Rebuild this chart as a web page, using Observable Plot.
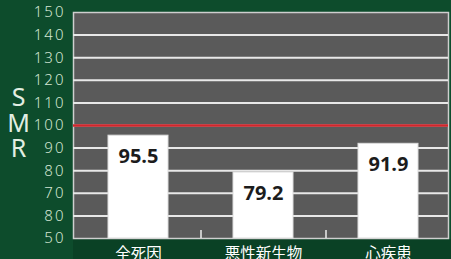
<!DOCTYPE html>
<html><head><meta charset="utf-8">
<script src="https://cdn.jsdelivr.net/npm/d3@7"></script>
<script src="https://cdn.jsdelivr.net/npm/@observablehq/plot@0.6"></script>
<style>
html,body{margin:0;padding:0;width:451px;height:259px;overflow:hidden;background:#0d4c2c;}
#chart{position:relative;}
#strip{position:absolute;left:73px;top:239px;width:378px;height:20px;background:#0a4125;}
svg{position:relative;display:block;}
g[aria-label="y-axis tick label"] text{letter-spacing:2px;font-weight:300;}
</style></head>
<body><div id="chart"><div id="strip"></div></div>
<script>
const categories = ["全死因", "悪性新生物", "心疾患"];
const smrValues = [95.5, 79.2, 91.9];
const valueLabels = ["95.5", "79.2", "91.9"];
const yTicks = [50, 60, 70, 80, 90, 100, 110, 120, 130, 140, 150];
const yTickLabels = ["50", "80", "70", "80", "90", "100", "110", "120", "130", "140", "150"];
const referenceLine = [100];
const axisTitle = "S\nM\nR";

const rows = categories.map((c, i) => ({category: c, smr: smrValues[i], label: valueLabels[i]}));
const labelMap = new Map(yTicks.map((t, i) => [t, yTickLabels[i]]));
const baseline = yTicks[0];
const step = (450 - 75) / categories.length;

const chart = Plot.plot({
  width: 451,
  height: 259,
  marginLeft: 73,
  marginRight: 3,
  marginTop: 12,
  marginBottom: 21,
  style: {background: "transparent", color: "white", fontFamily: "'Noto Sans', 'Noto Sans CJK JP', sans-serif"},
  x: {domain: categories, range: [75, 450], paddingInner: 0.52, paddingOuter: 0.26, label: null},
  y: {domain: [50, 150], label: null},
  marks: [
    Plot.frame({fill: "#5a5a5a", stroke: "#cfcfcf", strokeWidth: 1.5}),
    Plot.ruleY(yTicks.slice(1, -1), {stroke: "#e8e8e8", strokeWidth: 2}),
    Plot.ruleY(referenceLine, {stroke: "#d2262c", strokeWidth: 2.5}),
    Plot.ruleX(categories.slice(0, -1), {x: d => d, y1: baseline, y2: baseline, insetTop: -8, dx: step / 2, stroke: "#eeeeee", strokeWidth: 1.5}),
    Plot.barY(rows, {x: "category", y1: baseline, y2: "smr", fill: "#ffffff", stroke: "#dddddd", strokeWidth: 1}),
    Plot.text(rows, {x: "category", y: "smr", text: "label", dy: 21, fontSize: 20, fontWeight: "bold", fill: "#1c1c1c", fontFamily: "'Open Sans', 'Noto Sans', sans-serif"}),
    Plot.axisY(yTicks, {tickSize: 0, tickPadding: 8, tickFormat: d => labelMap.get(d), fontSize: 15, fill: "#d3e6d3", label: null}),
    Plot.axisX({tickSize: 0, tickPadding: 9, fontSize: 15.5, fill: "#ffffff", label: null}),
    Plot.text([axisTitle], {frameAnchor: "left", dx: -55, dy: -2, fontSize: 25, lineHeight: 1.03, fill: "#e2eee2", textAnchor: "middle"})
  ]
});
document.getElementById("chart").appendChild(chart);
</script>
</body></html>
